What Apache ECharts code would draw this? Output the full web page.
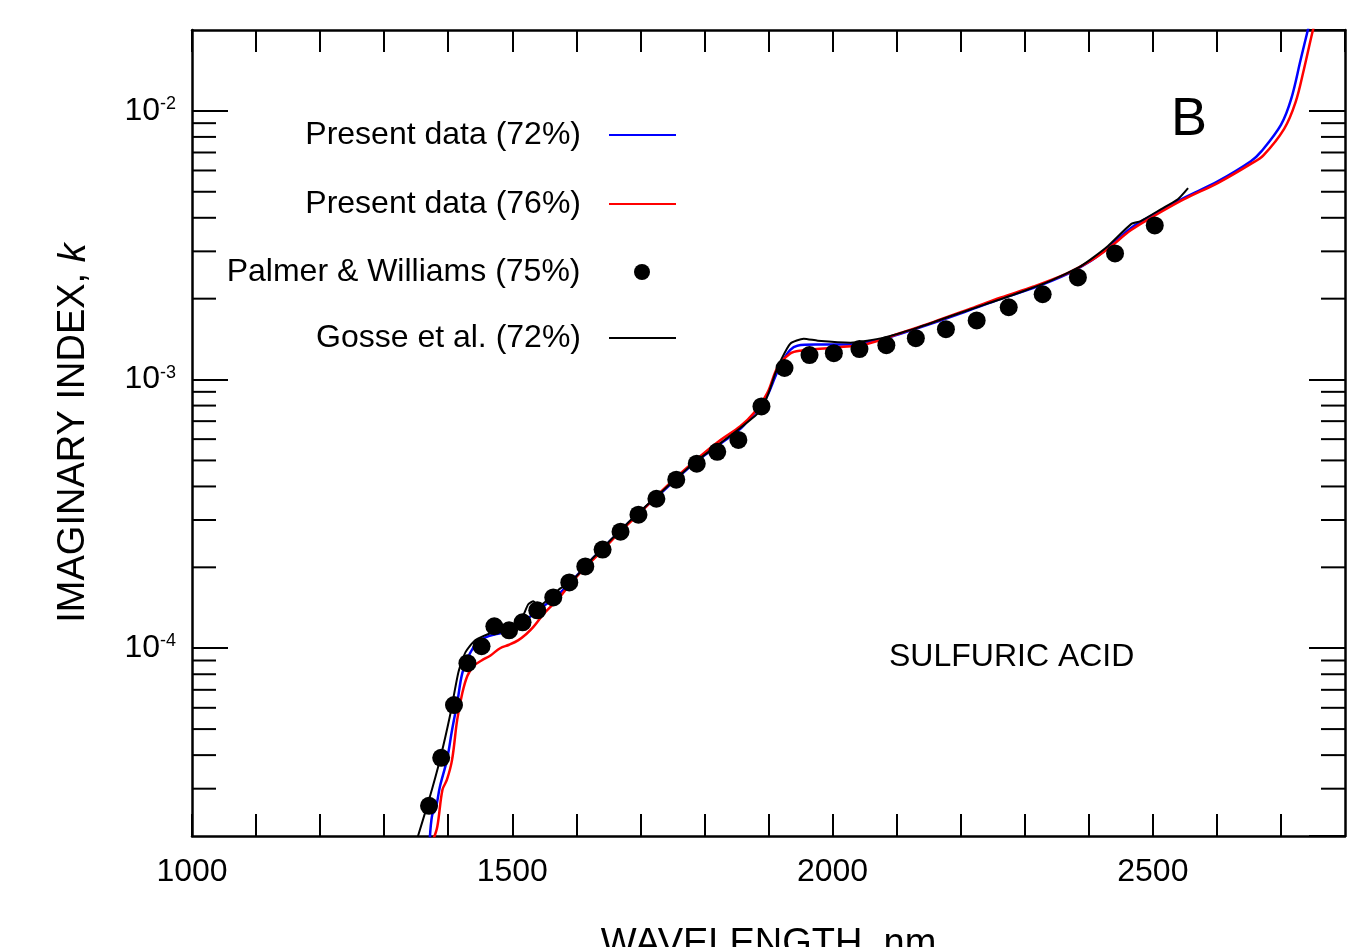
<!DOCTYPE html>
<html>
<head>
<meta charset="utf-8">
<title>Sulfuric acid imaginary index</title>
<script src="https://cdn.jsdelivr.net/npm/echarts@6/dist/echarts.min.js"></script>
<style>
  html, body { margin: 0; padding: 0; background: #fff; overflow: hidden; }
  #chart { width: 1372px; height: 947px; }
</style>
</head>
<body>
<div id="chart"></div>
<script>
const FONT = '"Liberation Sans", Arial, sans-serif';

// Present data (72%) - blue
const wl72 = [1371, 1375, 1380, 1387, 1398, 1406, 1414, 1422, 1434, 1445, 1459, 1475, 1490, 1500, 1520, 1544, 1567, 1591, 1627, 1680, 1731, 1783, 1825, 1856, 1877, 1888, 1900, 1911, 1922, 1934, 1945, 1973, 2002, 2028, 2059, 2080, 2106, 2158, 2211, 2263, 2314, 2367, 2403, 2430, 2466, 2497, 2548, 2602, 2653, 2669, 2700, 2716, 2731, 2742, 2747];
const k72 = [1.9e-5, 2.4e-5, 2.5e-5, 3.05e-5, 3.84e-5, 4.96e-5, 6.25e-5, 8.08e-5, 9.58e-5, 1.05e-4, 1.10e-4, 1.13e-4, 1.15e-4, 1.186e-4, 1.27e-4, 1.407e-4, 1.546e-4, 1.758e-4, 2.176e-4, 2.91e-4, 3.76e-4, 4.86e-4, 5.77e-4, 6.55e-4, 7.45e-4, 7.87e-4, 8.9e-4, 1.03e-3, 1.17e-3, 1.29e-3, 1.337e-3, 1.349e-3, 1.349e-3, 1.35e-3, 1.383e-3, 1.419e-3, 1.481e-3, 1.627e-3, 1.803e-3, 1.998e-3, 2.195e-3, 2.474e-3, 2.764e-3, 3.09e-3, 3.664e-3, 4.06e-3, 4.735e-3, 5.475e-3, 6.49e-3, 7.05e-3, 8.87e-3, 1.108e-2, 1.56e-2, 2.0e-2, 2.23e-2];

// Present data (76%) - red
const wl76 = [1377, 1383, 1391, 1398, 1406, 1414, 1422, 1430, 1440, 1452, 1466, 1481, 1495, 1509, 1522, 1533, 1550, 1572, 1591, 1614, 1638, 1669, 1700, 1731, 1763, 1794, 1825, 1856, 1877, 1898, 1914, 1934, 1950, 2002, 2055, 2106, 2158, 2211, 2263, 2314, 2367, 2403, 2430, 2466, 2497, 2548, 2602, 2653, 2673, 2705, 2723, 2736, 2750, 2756];
const k76 = [1.95e-5, 2.17e-5, 2.97e-5, 3.24e-5, 3.84e-5, 5.41e-5, 6.81e-5, 7.9e-5, 8.6e-5, 9.0e-5, 9.4e-5, 1.0e-4, 1.03e-4, 1.07e-4, 1.13e-4, 1.2e-4, 1.35e-4, 1.53e-4, 1.74e-4, 2.0e-4, 2.28e-4, 2.72e-4, 3.2e-4, 3.8e-4, 4.48e-4, 5.2e-4, 5.95e-4, 6.7e-4, 7.5e-4, 8.9e-4, 1.108e-3, 1.249e-3, 1.281e-3, 1.314e-3, 1.36e-3, 1.49e-3, 1.64e-3, 1.82e-3, 2.02e-3, 2.22e-3, 2.49e-3, 2.77e-3, 3.07e-3, 3.6e-3, 4.0e-3, 4.68e-3, 5.4e-3, 6.35e-3, 6.85e-3, 8.57e-3, 1.08e-2, 1.432e-2, 2.0e-2, 2.23e-2];

// Palmer & Williams (75%) - dots
const wlPW = [1370, 1389, 1409, 1430, 1452, 1472, 1495, 1516, 1539, 1564, 1589, 1614, 1641, 1669, 1697, 1725, 1756, 1788, 1820, 1853, 1889, 1925, 1964, 2002, 2042, 2084, 2130, 2177, 2225, 2275, 2328, 2383, 2441, 2503];
const kPW = [2.59e-5, 3.91e-5, 6.14e-5, 8.80e-5, 1.017e-4, 1.207e-4, 1.166e-4, 1.249e-4, 1.384e-4, 1.546e-4, 1.758e-4, 2.015e-4, 2.33e-4, 2.716e-4, 3.14e-4, 3.60e-4, 4.24e-4, 4.86e-4, 5.38e-4, 5.96e-4, 7.94e-4, 1.104e-3, 1.233e-3, 1.254e-3, 1.298e-3, 1.343e-3, 1.426e-3, 1.54e-3, 1.66e-3, 1.858e-3, 2.077e-3, 2.40e-3, 2.946e-3, 3.745e-3];

// Gosse et al. (72%) - black
const wlG = [1350, 1370, 1387, 1403, 1416, 1427, 1442, 1466, 1489, 1513, 1525, 1533, 1541, 1556, 1575, 1591, 1627, 1680, 1731, 1783, 1825, 1856, 1888, 1900, 1911, 1919, 1934, 1955, 1977, 2028, 2080, 2133, 2184, 2237, 2290, 2340, 2385, 2403, 2430, 2466, 2481, 2513, 2539, 2555];
const kG = [1.9e-5, 2.73e-5, 3.84e-5, 5.64e-5, 8.15e-5, 9.67e-5, 1.071e-4, 1.137e-4, 1.156e-4, 1.27e-4, 1.457e-4, 1.494e-4, 1.432e-4, 1.52e-4, 1.67e-4, 1.76e-4, 2.18e-4, 2.92e-4, 3.78e-4, 4.88e-4, 5.8e-4, 6.6e-4, 7.67e-4, 8.9e-4, 1.061e-3, 1.176e-3, 1.36e-3, 1.419e-3, 1.395e-3, 1.372e-3, 1.432e-3, 1.56e-3, 1.72e-3, 1.9e-3, 2.1e-3, 2.33e-3, 2.62e-3, 2.8e-3, 3.14e-3, 3.79e-3, 3.89e-3, 4.31e-3, 4.69e-3, 5.16e-3];

// axis ranges and minor log ticks
const xMin = 1000, xMax = 2800, xStep = 100, xLabelStep = 500;
const yMin = 2e-5, yMax = 2e-2;
const yMinorTicks = [3e-5, 4e-5, 5e-5, 6e-5, 7e-5, 8e-5, 9e-5,
  2e-4, 3e-4, 4e-4, 5e-4, 6e-4, 7e-4, 8e-4, 9e-4,
  2e-3, 3e-3, 4e-3, 5e-3, 6e-3, 7e-3, 8e-3, 9e-3];

const names = ['Present data (72%)', 'Present data (76%)', 'Palmer & Williams (75%)', 'Gosse et al. (72%)'];
const legendCenters = [134, 203, 271, 337];

const zip = (xs, ys) => xs.map((x, i) => [x, ys[i]]);

const chart = echarts.init(document.getElementById('chart'));

const axisLine = { show: true, lineStyle: { color: '#000', width: 2.5 } };

const legends = names.map((n, i) => {
  const isDot = i === 2;
  return {
    data: [n],
    orient: 'horizontal',
    align: 'right',
    // the dot legend's box only spans the dot itself
    right: isDot ? 722 : 695,
    top: legendCenters[i] - 15,
    padding: 0,
    itemWidth: 67,
    itemHeight: 16,
    selectedMode: false,
    itemStyle: isDot ? { opacity: 1, color: '#000' } : { opacity: 0 },
    textStyle: {
      fontFamily: FONT,
      fontSize: 32,
      lineHeight: 32,
      color: '#000',
      padding: [0, 23, 0, 0]
    }
  };
});

chart.setOption({
  animation: false,
  backgroundColor: '#fff',
  textStyle: { fontFamily: FONT },
  grid: { left: 192, right: 27, top: 30, bottom: 111, containLabel: false, outerBoundsMode: 'none' },
  legend: legends,
  xAxis: [
    {
      type: 'value',
      position: 'bottom',
      min: xMin,
      max: xMax,
      interval: xStep,
      axisLine: axisLine,
      axisTick: { show: true, inside: true, length: 22, lineStyle: { color: '#000', width: 2 } },
      axisLabel: {
        show: true,
        margin: 20,
        fontSize: 32,
        color: '#000',
        fontFamily: FONT,
        showMaxLabel: false,
        formatter: (v) => (v % xLabelStep === 0 ? String(v) : '')
      },
      splitLine: { show: false },
      name: 'WAVELENGTH, nm',
      nameLocation: 'middle',
      nameGap: 90,
      nameTextStyle: { fontSize: 38, color: '#000', fontFamily: FONT }
    },
    {
      type: 'value',
      position: 'top',
      min: xMin,
      max: xMax,
      interval: xStep,
      axisLine: axisLine,
      axisTick: { show: true, inside: true, length: 22, lineStyle: { color: '#000', width: 2 } },
      axisLabel: { show: false },
      splitLine: { show: false }
    }
  ],
  yAxis: [
    {
      type: 'log',
      logBase: 10,
      position: 'left',
      min: yMin,
      max: yMax,
      axisLine: axisLine,
      axisTick: { show: true, inside: true, length: 36, lineStyle: { color: '#000', width: 2 } },
      axisLabel: {
        show: true,
        margin: 16,
        color: '#000',
        fontFamily: FONT,
        showMinLabel: false,
        showMaxLabel: false,
        formatter: (v) => {
          const e = Math.log10(v);
          if (Math.abs(e - Math.round(e)) > 1e-6) return '';
          return '{b|10}{s|' + Math.round(e) + '}';
        },
        rich: {
          b: { fontSize: 32, fontFamily: FONT, color: '#000' },
          s: { fontSize: 18, fontFamily: FONT, color: '#000', verticalAlign: 'top' }
        }
      },
      splitLine: { show: false },
      name: 'IMAGINARY INDEX, {i|k}',
      nameLocation: 'middle',
      nameRotate: 90,
      nameGap: 99,
      nameTextStyle: {
        fontSize: 38,
        color: '#000',
        fontFamily: FONT,
        rich: { i: { fontSize: 38, fontStyle: 'italic', fontFamily: FONT, color: '#000' } }
      }
    },
    {
      type: 'log',
      logBase: 10,
      position: 'right',
      min: yMin,
      max: yMax,
      axisLine: axisLine,
      axisTick: { show: true, inside: true, length: 36, lineStyle: { color: '#000', width: 2 } },
      axisLabel: { show: false },
      splitLine: { show: false }
    }
  ],
  graphic: [
    {
      type: 'text',
      left: 1171,
      top: 93,
      style: { text: 'B', font: '54px ' + FONT, fill: '#000' }
    },
    {
      type: 'text',
      left: 889,
      top: 641,
      style: { text: 'SULFURIC ACID', font: '32px ' + FONT, fill: '#000' }
    }
  ],
  series: [
    {
      name: 'minor-ticks',
      type: 'custom',
      xAxisIndex: 0,
      yAxisIndex: 0,
      silent: true,
      z: 1,
      data: yMinorTicks.map((v) => [xMin, v]),
      renderItem: (params, api) => {
        const cs = params.coordSys;
        const y = api.coord([api.value(0), api.value(1)])[1];
        const st = { stroke: '#000', lineWidth: 2 };
        return {
          type: 'group',
          children: [
            { type: 'line', shape: { x1: cs.x, y1: y, x2: cs.x + 24, y2: y }, style: st },
            { type: 'line', shape: { x1: cs.x + cs.width - 24, y1: y, x2: cs.x + cs.width, y2: y }, style: st }
          ]
        };
      }
    },
    {
      name: names[0],
      type: 'line',
      data: zip(wl72, k72),
      showSymbol: false,
      symbol: 'none',
      smooth: 0.35,
      clip: true,
      color: '#0000ff',
      lineStyle: { color: '#0000ff', width: 2.5 },
      z: 3
    },
    {
      name: names[1],
      type: 'line',
      data: zip(wl76, k76),
      showSymbol: false,
      symbol: 'none',
      smooth: 0.35,
      clip: true,
      color: '#ff0000',
      lineStyle: { color: '#ff0000', width: 2.5 },
      z: 4
    },
    {
      name: names[3],
      type: 'line',
      data: zip(wlG, kG),
      showSymbol: false,
      symbol: 'none',
      smooth: 0.2,
      clip: true,
      color: '#000',
      lineStyle: { color: '#000', width: 2 },
      z: 5
    },
    {
      name: names[2],
      type: 'scatter',
      data: zip(wlPW, kPW),
      symbol: 'circle',
      symbolSize: 18,
      color: '#000',
      itemStyle: { color: '#000', opacity: 1 },
      z: 6
    }
  ]
});
</script>
</body>
</html>
